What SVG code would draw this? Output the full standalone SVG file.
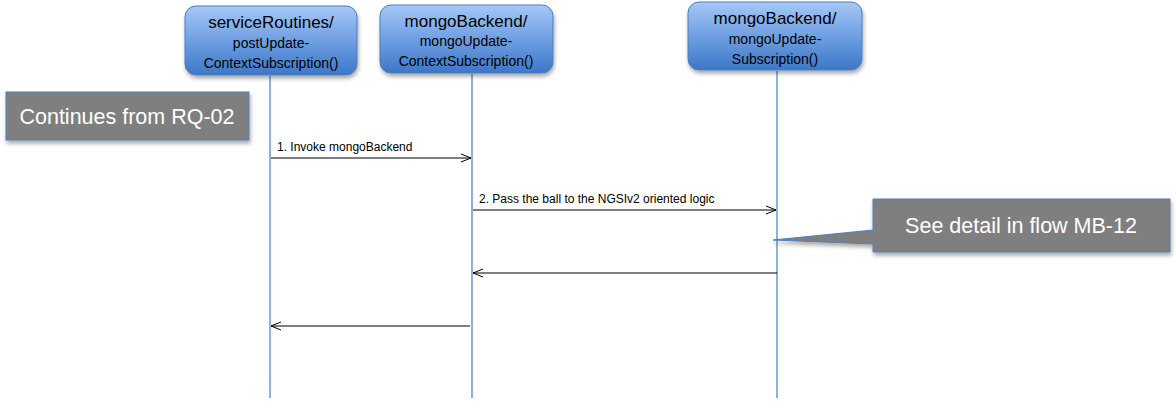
<svg xmlns="http://www.w3.org/2000/svg" width="1176" height="405" viewBox="0 0 1176 405">
<defs>
<linearGradient id="g" x1="0" y1="0" x2="0" y2="1">
<stop offset="0" stop-color="#a6c8f6"/>
<stop offset="0.5" stop-color="#6f9fe2"/>
<stop offset="1" stop-color="#3c77c7"/>
</linearGradient>
<filter id="sh" x="-10%" y="-10%" width="130%" height="140%">
<feGaussianBlur in="SourceAlpha" stdDeviation="2"/>
<feOffset dx="1" dy="3"/>
<feComponentTransfer><feFuncA type="linear" slope="0.35"/></feComponentTransfer>
<feMerge><feMergeNode/><feMergeNode in="SourceGraphic"/></feMerge>
</filter>
<marker id="ah" markerWidth="12" markerHeight="10" refX="11" refY="5" orient="auto" markerUnits="userSpaceOnUse">
<path d="M1,1 L11,5 L1,9" fill="none" stroke="#000" stroke-width="1"/>
</marker>
</defs>
<style>
.box{fill:url(#g);stroke:#4a7ebb;stroke-width:1;filter:url(#sh)}
.t1{font-family:"Liberation Sans",Arial,sans-serif;font-size:17px;fill:#000;text-anchor:middle}
.t2{font-family:"Liberation Sans",Arial,sans-serif;font-size:14px;fill:#000;text-anchor:middle}
.life{stroke:#4f86d6;stroke-width:1.3;fill:none}
.msg{stroke:#000;stroke-width:1.2;fill:none;marker-end:url(#ah)}
.lbl{font-family:"Liberation Sans",Arial,sans-serif;font-size:12px;fill:#000}
.note{fill:#7f7f7f;stroke:#4f81bd;stroke-width:1;filter:url(#sh)}
.nt{font-family:"Liberation Sans",Arial,sans-serif;font-size:21.5px;fill:#fff;text-anchor:middle}
</style>
<g id="lifelines">
<line class="life" x1="270" y1="76" x2="270" y2="398"/>
<line class="life" x1="472" y1="74" x2="472" y2="398"/>
<line class="life" x1="777" y1="71" x2="777" y2="398"/>
</g>
<g id="node-serviceRoutines">
<rect class="box" x="185" y="6" width="172" height="69" rx="11"/>
<text class="t1" x="271" y="28">serviceRoutines/</text>
<text class="t2" x="271" y="48">postUpdate-</text>
<text class="t2" x="271" y="68">ContextSubscription()</text>
</g>
<g id="node-mongoBackend1">
<rect class="box" x="380" y="5" width="173" height="68" rx="11"/>
<text class="t1" x="466" y="27">mongoBackend/</text>
<text class="t2" x="466" y="46">mongoUpdate-</text>
<text class="t2" x="466" y="66">ContextSubscription()</text>
</g>
<g id="node-mongoBackend2">
<rect class="box" x="688" y="2" width="174" height="68" rx="11"/>
<text class="t1" x="775" y="24">mongoBackend/</text>
<text class="t2" x="775" y="44">mongoUpdate-</text>
<text class="t2" x="775" y="64">Subscription()</text>
</g>
<g id="note-continues">
<rect class="note" x="6" y="92" width="243" height="48"/>
<text class="nt" x="127" y="124">Continues from RQ-02</text>
</g>
<g id="note-detail">
<path class="note" d="M873,199 H1170 V252 H873 V244 L773,240 L873,230 Z"/>
<text class="nt" x="1021" y="233">See detail in flow MB-12</text>
</g>
<g id="connectors">
<line class="msg" x1="271" y1="158" x2="471" y2="158"/>
<text class="lbl" x="277" y="151">1. Invoke mongoBackend</text>
<line class="msg" x1="473" y1="210" x2="776" y2="210"/>
<text class="lbl" x="479" y="203">2. Pass the ball to the NGSIv2 oriented logic</text>
<line class="msg" x1="777" y1="273" x2="473" y2="273"/>
<line class="msg" x1="470" y1="326" x2="271" y2="326"/>
</g>
</svg>
